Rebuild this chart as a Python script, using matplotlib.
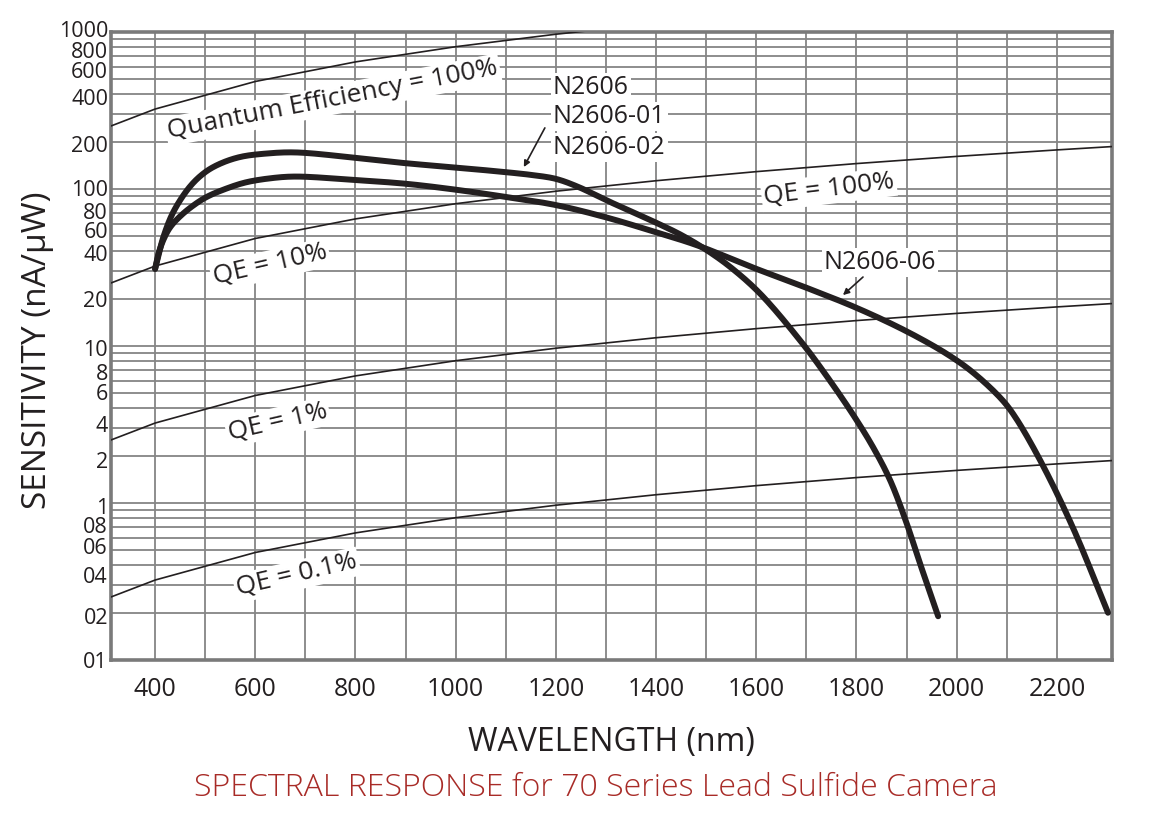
import matplotlib
matplotlib.use("Agg")
import matplotlib.pyplot as plt
import matplotlib.transforms as mtrans
import numpy as np

# ---------------- data ----------------
# Quantum-efficiency reference lines (nA/uW) at wavelengths (nm)
qe_wl = [312, 400, 600, 800, 1000, 1200, 1400, 1600, 1800, 2000, 2200, 2310]
qe_100 = [252, 323, 484, 645, 806, 968, 1129, 1290, 1452, 1613, 1774, 1863]
qe_10 = [25.2, 32.3, 48.4, 64.5, 80.6, 96.8, 112.9, 129.0, 145.2, 161.3, 177.4, 186.3]
qe_1 = [2.52, 3.23, 4.84, 6.45, 8.06, 9.68, 11.29, 12.90, 14.52, 16.13, 17.74, 18.63]
qe_01 = [0.252, 0.323, 0.484, 0.645, 0.806, 0.968, 1.129, 1.290, 1.452, 1.613, 1.774, 1.863]

# N2606 / N2606-01 / N2606-02
a_wl = [400, 406, 417, 437, 470, 500, 530, 570, 620, 680,
        800, 900, 1000, 1100, 1150, 1200, 1245, 1300, 1350, 1400, 1450, 1500, 1550,
        1608, 1691, 1741, 1793, 1833, 1867, 1899, 1927, 1963]
a_val = [31, 37, 50, 72, 104, 128, 145, 160, 168, 171,
         158, 146, 137, 128, 123, 116, 103, 85, 72, 61, 51, 41, 31.5,
         21.5, 10.5, 6.4, 3.66, 2.27, 1.40, 0.76, 0.41, 0.19]

# N2606-06
b_wl = [400, 406, 416, 430, 450, 475, 503, 540, 580, 630, 680,
        800, 900, 1000, 1100, 1200, 1300, 1400, 1480, 1600, 1700,
        1800, 1900, 1984, 2036, 2090, 2116, 2164, 2230, 2302]
b_val = [31, 38, 47, 57, 67, 78, 89, 100, 110, 117, 120,
         114, 108, 99, 89, 79, 66, 53, 44, 31, 23.5,
         17.5, 12.4, 8.75, 6.64, 4.57, 3.56, 1.94, 0.72, 0.2]

x_ticks = [400, 600, 800, 1000, 1200, 1400, 1600, 1800, 2000, 2200]
y_ticks = [1000, 800, 600, 400, 200, 100, 80, 60, 40, 20, 10, 8, 6, 4, 2,
           1, 0.8, 0.6, 0.4, 0.2, 0.1]
y_ticklabels = ['1000', '800', '600', '400', '200', '100', '80', '60', '40', '20',
                '10', '8', '6', '4', '2', '1', '08', '06', '04', '02', '01']


def smooth_curve(xs, ys, n=24):
    """Centripetal Catmull-Rom through the read points (drawn in x / log-y space)."""
    P = np.column_stack([np.asarray(xs, float) / 2.0, np.log10(ys) * 157.0])
    P = np.vstack([2 * P[0] - P[1], P, 2 * P[-1] - P[-2]])
    out = []
    for i in range(1, len(P) - 2):
        p0, p1, p2, p3 = P[i - 1], P[i], P[i + 1], P[i + 2]
        t0 = 0.0
        t1 = t0 + np.linalg.norm(p1 - p0) ** 0.5
        t2 = t1 + np.linalg.norm(p2 - p1) ** 0.5
        t3 = t2 + np.linalg.norm(p3 - p2) ** 0.5
        t = np.linspace(t1, t2, n)[:, None]
        a1 = (t1 - t) / (t1 - t0) * p0 + (t - t0) / (t1 - t0) * p1
        a2 = (t2 - t) / (t2 - t1) * p1 + (t - t1) / (t2 - t1) * p2
        a3 = (t3 - t) / (t3 - t2) * p2 + (t - t2) / (t3 - t2) * p3
        b1 = (t2 - t) / (t2 - t0) * a1 + (t - t0) / (t2 - t0) * a2
        b2 = (t3 - t) / (t3 - t1) * a2 + (t - t1) / (t3 - t1) * a3
        c = (t2 - t) / (t2 - t1) * b1 + (t - t1) / (t2 - t1) * b2
        out.append(c if i == 1 else c[1:])
    C = np.vstack(out)
    return C[:, 0] * 2.0, 10 ** (C[:, 1] / 157.0)


# ---------------- figure ----------------
plt.rcParams['font.family'] = ['Open Sans', 'DejaVu Sans']
W, H = 1161, 830
fig = plt.figure(figsize=(W / 100, H / 100), dpi=100)
ax = fig.add_axes([111 / W, 1 - 660 / H, 1001 / W, 628 / H])

ax.set_yscale('log')
ax.set_xlim(312, 2310)
ax.set_ylim(0.1, 1000)

grid_col = '#858585'
for xv in range(400, 2300, 100):
    ax.axvline(xv, color=grid_col, lw=1.3, zorder=1)
for dec in [0.1, 1, 10, 100]:
    for m in range(1, 10):
        ax.axhline(dec * m, color=grid_col, lw=1.3, zorder=1)

for s in ax.spines.values():
    s.set_color('#7a7a7a')
    s.set_linewidth(2.6)

tc = '#231f20'
ax.set_xticks(x_ticks)
ax.set_xticklabels([str(v) for v in x_ticks], fontsize=18, color=tc)
ax.set_yticks(y_ticks)
ax.set_yticklabels([])
ax.yaxis.set_minor_locator(matplotlib.ticker.NullLocator())
ax.tick_params(axis='both', length=0)
ax.tick_params(axis='x', pad=12)

# y tick labels, nudged as in the reference
ylab_shift = [0, 5, 6, 5, 5, 2, 9, 9, 4, 3, 5, 13, 14, 18, 7, 5, 9, 11, 12, 6, 2]
ytrans = mtrans.blended_transform_factory(ax.transAxes, ax.transData)
for v, lab, dy in zip(y_ticks, y_ticklabels, ylab_shift):
    tr = mtrans.offset_copy(ytrans, fig=fig, x=-3, y=-dy, units='dots')
    ax.text(0, v, lab, transform=tr, ha='right', va='center', fontsize=15.5,
            color=tc, clip_on=False)

# QE lines
for vals in (qe_100, qe_10, qe_1, qe_01):
    ax.plot(qe_wl, vals, color=tc, lw=1.2, zorder=3)

# response curves
for xs, ys in ((a_wl, a_val), (b_wl, b_val)):
    sx, sy = smooth_curve(xs, ys)
    ax.plot(sx, sy, color=tc, lw=4.3, zorder=4,
            solid_capstyle='round', solid_joinstyle='round')

box = dict(facecolor='white', edgecolor='none', pad=1.5)
ax.text(755, 369, 'Quantum Efficiency = 100%', rotation=11, fontsize=19,
        ha='center', va='center', color=tc, bbox=box, zorder=5, rotation_mode='anchor')
ax.text(630, 32.8, 'QE = 10%', rotation=13, fontsize=19,
        ha='center', va='center', color=tc, bbox=box, zorder=5, rotation_mode='anchor')
ax.text(645, 3.28, 'QE = 1%', rotation=13, fontsize=19,
        ha='center', va='center', color=tc, bbox=box, zorder=5, rotation_mode='anchor')
ax.text(683, 0.347, 'QE = 0.1%', rotation=13, fontsize=19,
        ha='center', va='center', color=tc, bbox=box, zorder=5, rotation_mode='anchor')
ax.text(1745, 99.5, 'QE = 100%', rotation=7, fontsize=19,
        ha='center', va='center', color=tc, bbox=box, zorder=5, rotation_mode='anchor')
ax.text(1847, 33.8, 'N2606-06', fontsize=18,
        ha='center', va='center', color=tc, bbox=box, zorder=5)
for yv, t in zip([440, 288, 185], ['N2606', 'N2606-01', 'N2606-02']):
    ax.text(1194, yv, t, fontsize=18, ha='left', va='center', color=tc,
            bbox=box, zorder=5)

ax.annotate('', xy=(1136, 138), xytext=(1178, 245),
            arrowprops=dict(arrowstyle='-|>', color=tc, lw=1.2,
                            mutation_scale=9, shrinkA=0, shrinkB=0), zorder=6)
ax.annotate('', xy=(1773, 21.1), xytext=(1813, 27.5),
            arrowprops=dict(arrowstyle='-|>', color=tc, lw=1.2,
                            mutation_scale=9, shrinkA=0, shrinkB=0), zorder=6)

fig.text(611 / W, 1 - 742 / H, 'WAVELENGTH (nm)', fontsize=23, color=tc,
         ha='center', va='center')
fig.text(38 / W, 1 - 350 / H, 'SENSITIVITY (nA/\u03bcW)', fontsize=24, color=tc,
         ha='center', va='center', rotation=90)
fig.text(596 / W, 1 - 788 / H, 'SPECTRAL RESPONSE for 70 Series Lead Sulfide Camera',
         fontsize=23, color='#a82b27', ha='center', va='center', fontweight='light')

fig.savefig('out.png', dpi=100, facecolor='white')
